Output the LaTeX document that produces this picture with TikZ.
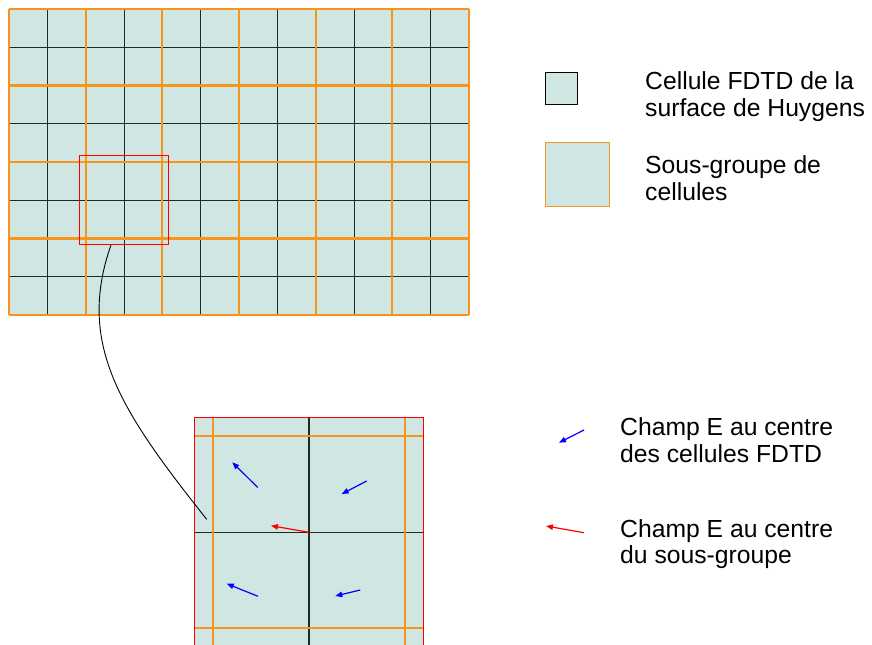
\documentclass[tikz,border=0pt]{standalone}
\usepackage{fontspec}
\setmainfont{Liberation Sans}
\usetikzlibrary{arrows.meta}
\definecolor{cellfill}{RGB}{207,230,227}
\definecolor{grporange}{RGB}{247,148,30}
\definecolor{fblue}{RGB}{0,0,255}
\definecolor{fred}{RGB}{255,0,0}
\tikzset{
  gridline/.style={black!85,line width=1bp},
  grpline/.style={grporange,line width=2.2bp},
  zoombox/.style={fred,line width=1.6bp},
  barrow/.style={fblue,line width=1.2bp,-{Triangle[length=7bp,width=5.5bp]}},
  rarrow/.style={fred,line width=1.2bp,-{Triangle[length=7bp,width=5.5bp]}},
  legtext/.style={anchor=base west,inner sep=0pt,font=\fontsize{24.8}{28}\selectfont}
}
\begin{document}
\begin{tikzpicture}[x=1bp,y=-1bp]
\useasboundingbox (0,0) rectangle (872,645);
% ---- top grid
\fill[cellfill] (9,9) rectangle (469,315);
\foreach \i in {1,...,11} \draw[gridline] ({9+\i*460/12},9) -- ({9+\i*460/12},315);
\foreach \j in {1,...,7} \draw[gridline] (9,{9+\j*306/8}) -- (469,{9+\j*306/8});
\foreach \i in {0,2,...,12} \draw[grpline] ({9+\i*460/12},9) -- ({9+\i*460/12},315);
\foreach \j in {0,2,...,8} \draw[grpline] (9,{9+\j*306/8}) -- (469,{9+\j*306/8});
% red selection box
\draw[zoombox] (79.5,155.6) rectangle (168.6,244.6);
% ---- zoomed view
\fill[cellfill] (194,417.5) rectangle (424,650);
\draw[gridline,line width=1.4bp] (309,417.5) -- (309,650);
\draw[gridline,line width=1.4bp] (194,532.3) -- (424,532.3);
\draw[grpline] (213.3,417.5) -- (213.3,650);
\draw[grpline] (405,417.5) -- (405,650);
\draw[grpline] (194,436.3) -- (424,436.3);
\draw[grpline] (194,628.3) -- (424,628.3);
\draw[zoombox] (194.6,650) -- (194.6,417.6) -- (423.6,417.6) -- (423.6,650);
% connector curve
\coordinate (cs) at (111,245);
\coordinate (ce) at (206.7,519.3);
\draw[black,line width=0.9bp] (cs) .. controls (76.4,343.7) and (119.9,410.1) .. (ce);
% field arrows
\coordinate (a1s) at (257.7,487.5); \coordinate (a1e) at (232.3,462.3);
\coordinate (a2s) at (366.7,481);   \coordinate (a2e) at (341.7,494);
\coordinate (a3s) at (258,596.3);   \coordinate (a3e) at (226.7,583.7);
\coordinate (a4s) at (360.3,590);   \coordinate (a4e) at (335.3,596);
\coordinate (rs) at (309,532.3);    \coordinate (re) at (271,525.7);
\draw[barrow] (a1s) -- (a1e);
\draw[barrow] (a2s) -- (a2e);
\draw[barrow] (a3s) -- (a3e);
\draw[barrow] (a4s) -- (a4e);
\draw[rarrow] (rs) -- (re);
% ---- legend
\filldraw[fill=cellfill,draw=black,line width=1.1bp] (545.5,72.5) rectangle (577.5,104.5);
\filldraw[fill=cellfill,draw=grporange,line width=1.1bp] (545.5,142.5) rectangle (609.5,206.5);
\node[legtext] (t1a) at (645,90) {Cellule FDTD de la};
\node[legtext] (t1b) at (645,117) {surface de Huygens};
\node[legtext] (t2a) at (645,174) {Sous-groupe de};
\node[legtext] (t2b) at (645,201) {cellules};
\coordinate (lbs) at (584,430); \coordinate (lbe) at (559,442.7);
\coordinate (lrs) at (584,532.7); \coordinate (lre) at (546,526);
\draw[barrow] (lbs) -- (lbe);
\draw[rarrow] (lrs) -- (lre);
\node[legtext] (t3a) at (620,435) {Champ E au centre};
\node[legtext] (t3b) at (620,462) {des cellules FDTD};
\node[legtext] (t4a) at (620,537) {Champ E au centre};
\node[legtext] (t4b) at (620,563.5) {du sous-groupe};
\end{tikzpicture}
\end{document}
